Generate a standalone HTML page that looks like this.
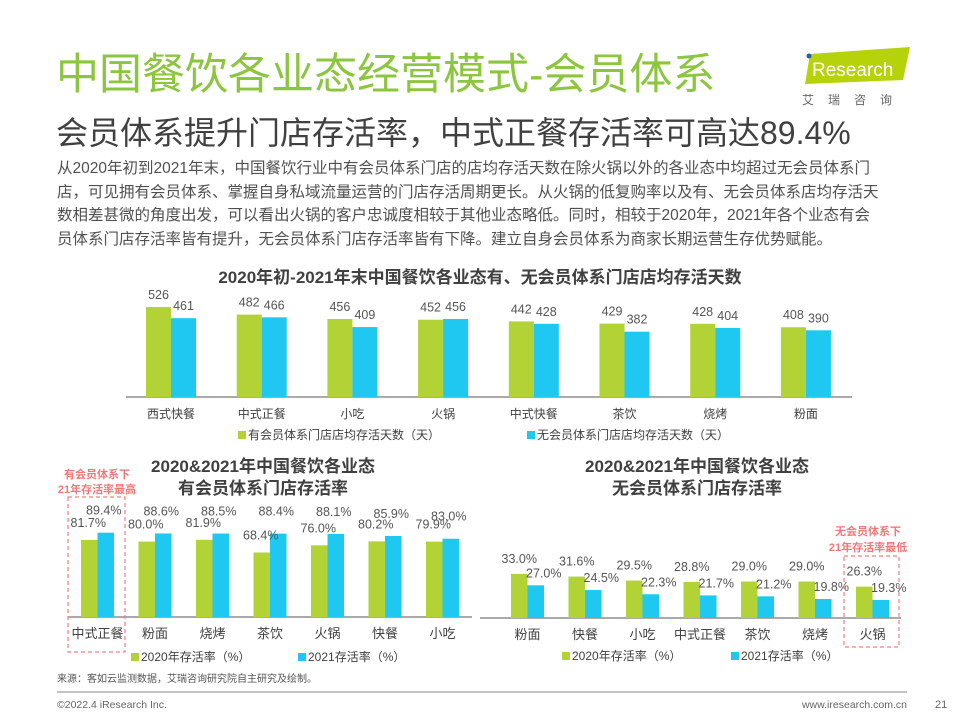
<!DOCTYPE html>
<html><head><meta charset="utf-8">
<style>
body{margin:0;background:#fff;}
#page{position:relative;width:960px;height:720px;overflow:hidden;font-family:"Liberation Sans","Noto Sans CJK SC",sans-serif;color:#404040;}
.abs{position:absolute;white-space:nowrap;}
svg text{font-family:"Liberation Sans","Noto Sans CJK SC",sans-serif;}
</style></head>
<body><div id="page">
<div class="abs" style="left:56px;top:47px;font-size:43px;line-height:56px;color:#8cc63e;">中国餐饮各业态经营模式-会员体系</div>
<div class="abs" style="left:56px;top:112px;font-size:32px;line-height:42px;color:#404040;">会员体系提升门店存活率，中式正餐存活率可高达89.4%</div>
<div class="abs" style="left:57px;top:157px;font-size:15.5px;line-height:23.7px;color:#505050;">从2020年初到2021年末，中国餐饮行业中有会员体系门店的店均存活天数在除火锅以外的各业态中均超过无会员体系门<br>店，可见拥有会员体系、掌握自身私域流量运营的门店存活周期更长。从火锅的低复购率以及有、无会员体系店均存活天<br>数相差甚微的角度出发，可以看出火锅的客户忠诚度相较于其他业态略低。同时，相较于2020年，2021年各个业态有会<br>员体系门店存活率皆有提升，无会员体系门店存活率皆有下降。建立自身会员体系为商家长期运营生存优势赋能。</div>
<svg class="abs" style="left:800px;top:44px" width="120" height="66">
<polygon points="10,10 110,3 103,36 5,40" fill="#b5d20a"/>
<circle cx="9" cy="12" r="2.5" fill="#2a5caa"/>
<text x="12" y="32" font-size="19" fill="#fff">Research</text>
<text x="2" y="60" font-size="12" fill="#666" letter-spacing="14">艾瑞咨询</text>
</svg>
<svg id="c" class="abs" style="left:0;top:0" width="960" height="720"></svg>
</div>
<script>
const topCats=["西式快餐","中式正餐","小吃","火锅","中式快餐","茶饮","烧烤","粉面"];
const topWith=[526,482,456,452,442,429,428,408];
const topWithout=[461,466,409,456,428,382,404,390];
const lCats=["中式正餐","粉面","烧烤","茶饮","火锅","快餐","小吃"];
const l2020=[81.7,80.0,81.9,68.4,76.0,80.2,79.9];
const l2021=[89.4,88.6,88.5,88.4,88.1,85.9,83.0];
const rCats=["粉面","快餐","小吃","中式正餐","茶饮","烧烤","火锅"];
const r2020=[33.0,31.6,29.5,28.8,29.0,29.0,26.3];
const r2021=[27.0,24.5,22.3,21.7,21.2,19.8,19.3];
const G="#b2d235",B="#1fc8f0",NS="http://www.w3.org/2000/svg";
const svg=document.getElementById('c');
function mk(tag,attrs,name,txt){const e=document.createElementNS(NS,tag);for(const k in attrs)e.setAttribute(k,attrs[k]);


if(txt!==undefined)e.textContent=txt;svg.appendChild(e);return e;}
function chart(o){
  const y=v=>o.base-(v-o.min)*o.k;
  mk('line',{x1:o.ax0,x2:o.ax1,y1:o.base,y2:o.base,stroke:'#777','stroke-width':1.3},o.id+'-x-axis');
  o.cats.forEach((c,i)=>{
    const x=o.x0+i*o.step;
    mk('rect',{x:x,y:y(o.a[i]),width:o.bw,height:o.base-y(o.a[i]),fill:G},o.id+'-bar-a-'+i);
    mk('rect',{x:x+o.bw,y:y(o.b[i]),width:o.bw,height:o.base-y(o.b[i]),fill:B},o.id+'-bar-b-'+i);
    mk('text',{x:x+o.bw,y:o.base+21,'text-anchor':'middle','font-size':o.cf,fill:'#404040'},o.id+'-cat-label',c);
    mk('text',{x:x+o.bw/2+o.la,y:y(o.a[i])-o.ly,'text-anchor':'middle','font-size':o.vf,fill:'#555'},o.id+'-value-a',o.fmt(o.a[i]));
    mk('text',{x:x+o.bw*1.5+o.lb,y:y(o.b[i])-o.ly2,'text-anchor':'middle','font-size':o.vf,fill:'#555'},o.id+'-value-b',o.fmt(o.b[i]));
  });
}
chart({id:'days',cats:topCats,a:topWith,b:topWithout,base:397,min:0,k:0.171,x0:146,step:90.7,bw:25,ax0:126,ax1:852,cf:12,vf:12.5,la:0,lb:0,ly:8,ly2:8,fmt:v=>String(v)});
chart({id:'with',cats:lCats,a:l2020,b:l2021,base:617,min:0,k:0.943,x0:81,step:57.5,bw:16.5,ax0:68,ax1:472,cf:13,vf:12.5,la:-1,lb:-2,ly:13,ly2:18,fmt:v=>v.toFixed(1)+'%'});
chart({id:'without',cats:rCats,a:r2020,b:r2021,base:618,min:9.8,k:1.9,x0:511,step:57.5,bw:16.5,ax0:480,ax1:901,cf:13,vf:12.5,la:0,lb:8,ly:11,ly2:8,fmt:v=>v.toFixed(1)+'%'});
const T=(x,y,s,t,n,ex)=>{const e=mk('text',Object.assign({x:x,y:y,'font-size':s,fill:'#404040','text-anchor':'middle'},ex||{}),n,t);return e;};
T(480,283,17,"2020年初-2021年末中国餐饮各业态有、无会员体系门店店均存活天数",'days-title',{'font-weight':'bold'});
T(263,472,17,"2020&2021年中国餐饮各业态",'with-title',{'font-weight':'bold'});
T(263,494,17,"有会员体系门店存活率",'with-title-2',{'font-weight':'bold'});
T(697,472,17,"2020&2021年中国餐饮各业态",'without-title',{'font-weight':'bold'});
T(697,494,17,"无会员体系门店存活率",'without-title-2',{'font-weight':'bold'});
function leg(x,y,col,t,n){mk('rect',{x:x,y:y-8,width:8,height:8,fill:col},n+'-swatch');mk('text',{x:x+10,y:y,'font-size':12,fill:'#404040'},n+'-text',t);}
leg(238,439,G,"有会员体系门店店均存活天数（天）",'days-legend-a');
leg(527,439,B,"无会员体系门店店均存活天数（天）",'days-legend-b');
leg(131,661,G,"2020年存活率（%）",'with-legend-a');
leg(298,661,B,"2021存活率（%）",'with-legend-b');
leg(562,660,G,"2020年存活率（%）",'without-legend-a');
leg(731,660,B,"2021存活率（%）",'without-legend-b');
mk('rect',{x:68,y:497,width:57,height:155,fill:'none',stroke:'#f08080','stroke-dasharray':'4,3','stroke-width':1.2},'highlight-box-left');
mk('rect',{x:844,y:556,width:55,height:91,fill:'none',stroke:'#f08080','stroke-dasharray':'4,3','stroke-width':1.2},'highlight-box-right');
T(97,478,11,"有会员体系下",'annotation-left-1',{fill:'#f07878','font-weight':'bold'});
T(97,493,11,"21年存活率最高",'annotation-left-2',{fill:'#f07878','font-weight':'bold'});
T(868,535,11,"无会员体系下",'annotation-right-1',{fill:'#f07878','font-weight':'bold'});
T(868,551,11,"21年存活率最低",'annotation-right-2',{fill:'#f07878','font-weight':'bold'});
mk('text',{x:57,y:682,'font-size':10,fill:'#555'},'source-note',"来源：客如云监测数据，艾瑞咨询研究院自主研究及绘制。");
mk('line',{x1:57,x2:907,y1:692,y2:692,stroke:'#888','stroke-width':1},'footer-line');
mk('text',{x:57,y:708,'font-size':10.5,fill:'#666'},'copyright',"©2022.4 iResearch Inc.");
mk('text',{x:907,y:708,'font-size':10.5,fill:'#666','text-anchor':'end'},'website',"www.iresearch.com.cn");
mk('text',{x:935,y:708,'font-size':11,fill:'#666'},'page-number',"21");
</script>
</body></html>
